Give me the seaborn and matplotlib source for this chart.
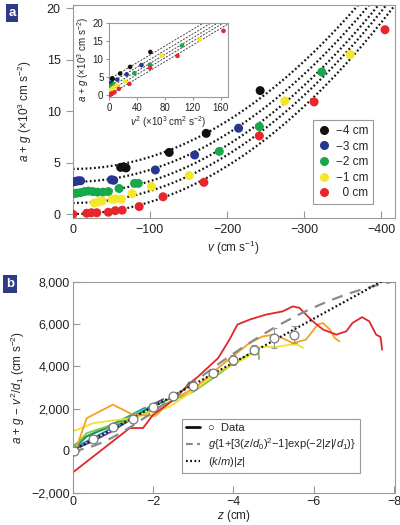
import numpy as np
import pandas as pd
import seaborn as sns
import matplotlib
matplotlib.use('Agg')
import matplotlib.pyplot as plt
from matplotlib import font_manager
from matplotlib.lines import Line2D
from matplotlib.ticker import FuncFormatter

# ---- panel a data: v (cm/s) and a+g (x10^3 cm/s^2) for each depth
depths = ['\u22124 cm', '\u22123 cm', '\u22122 cm', '\u22121 cm', '\u20070 cm']
colors_a = ['#111111', '#27368f', '#17a84b', '#f6e62b', '#e6262b']

v_m4 = [-62, -66, -69, -125, -173, -243]
ag_m4 = [4.55, 4.6, 4.5, 6.0, 7.85, 12.0]
v_m3 = [-1, -4, -7, -10, -50, -53, -107, -158, -215]
ag_m3 = [3.15, 3.2, 3.25, 3.25, 3.35, 3.3, 4.3, 5.75, 8.35]
v_m2 = [-1, -5, -10, -15, -20, -26, -32, -39, -46, -60, -80, -85, -190, -242, -323]
ag_m2 = [2.0, 2.05, 2.1, 2.2, 2.25, 2.2, 2.15, 2.15, 2.2, 2.5, 3.0, 3.0, 6.1, 8.5, 13.8]
v_m1 = [-28, -33, -38, -51, -55, -63, -77, -102, -151, -275, -360]
ag_m1 = [1.1, 1.2, 1.3, 1.45, 1.5, 1.45, 2.0, 2.7, 3.75, 11.0, 15.5]
v_0 = [0, -18, -24, -31, -46, -55, -64, -86, -117, -170, -242, -313, -405]
ag_0 = [0.0, 0.1, 0.15, 0.15, 0.2, 0.35, 0.4, 0.75, 1.7, 3.1, 7.6, 10.9, 17.9]

# fitted parabolas a+g = c + s v^2
fit_c = [4.4, 3.15, 2.05, 1.1, 0.03]
fit_s = 0.116  # x10^3 per 10^3 cm^2/s^2

# ---- panel b data: z (cm) and a+g-v^2/d1 (cm/s^2)
runs = {
    'purple': ([0, -0.5, -1.0, -1.5, -2.0, -2.25], [50, 450, 950, 1550, 2200, 2450]),
    'blue': ([0, -0.4, -0.9, -1.4, -1.9], [100, 500, 1000, 1500, 2050]),
    'teal': ([0, -0.3, -0.8, -1.3, -1.8], [200, 650, 1100, 1550, 2050]),
    'dgreen': ([0, -0.35, -0.85, -1.5, -2.0, -2.5, -2.8, -2.9, -2.95],
               [50, 680, 1080, 1630, 2100, 2550, 2950, 3250, 2950]),
    'lime': ([0, -0.35, -0.85, -1.5, -2.0, -2.5, -3.0, -3.5, -4.0, -4.4, -4.62, -4.64],
             [120, 840, 1150, 1500, 1950, 2400, 2800, 3450, 4150, 4600, 4750, 4350]),
    'yellow': ([0, -0.51, -1.0, -1.5, -2.0, -2.42, -3.04, -3.57, -3.9, -4.31, -4.65, -5.05, -5.4, -5.6, -5.73],
               [920, 1310, 1440, 1550, 1850, 2100, 2900, 3690, 4010, 4400, 4930, 4930, 5030, 5030, 4880]),
    'orange': ([0, -0.35, -1.0, -1.5, -2.06, -2.5, -3.04, -3.57, -4.03, -4.4, -4.73, -5.03, -5.48, -5.8, -6.1, -6.23, -6.4, -6.52, -6.64],
               [-350, 1550, 2190, 1710, 1660, 2450, 2980, 3850, 4560, 5110, 5430, 5510, 5110, 5270, 5990, 6060, 5750, 5350, 5190]),
    'red': ([0, -1.42, -1.75, -2.0, -2.5, -2.91, -3.12, -3.62, -3.9, -4.1, -4.4, -4.81, -5.22, -5.48, -5.64, -5.97, -6.23, -6.56, -6.81, -6.96, -7.2, -7.38, -7.55, -7.66, -7.7],
            [-1030, 1080, 1080, 1710, 2400, 3200, 3520, 4400, 5270, 5990, 6220, 6460, 6610, 6850, 6780, 6150, 5750, 5510, 5670, 6060, 6340, 6140, 5510, 5400, 4800]),
}
run_colors = {'purple': '#6a3d9a', 'blue': '#2b7bba', 'teal': '#22a7a0', 'dgreen': '#1e9a4a',
              'lime': '#86c440', 'yellow': '#f2e033', 'orange': '#f4a21f', 'red': '#e0262b'}

data_z = [-0.02, -0.5, -1.0, -1.5, -2.0, -2.5, -3.0, -3.5, -4.0, -4.5, -5.0, -5.5]
data_y = [0, 570, 1120, 1520, 2075, 2610, 3090, 3690, 4320, 4800, 5340, 5510]
data_err = [50, 60, 80, 80, 100, 120, 130, 150, 240, 230, 470, 400]

g_acc, d0, d1 = 980.0, 2.27, 9.9
k_m = 1045.0

# ---- style
sns.set_style('ticks')
names = {f.name for f in font_manager.fontManager.ttflist}
base = 'Liberation Sans Narrow' if 'Liberation Sans Narrow' in names else 'Liberation Sans'
plt.rcParams['font.family'] = [base, 'DejaVu Sans']
plt.rcParams['mathtext.fontset'] = 'custom'
plt.rcParams['mathtext.rm'] = base
plt.rcParams['mathtext.it'] = base + ':italic'
plt.rcParams['axes.edgecolor'] = '#999999'
plt.rcParams['xtick.color'] = '#999999'
plt.rcParams['ytick.color'] = '#999999'
plt.rcParams['xtick.labelcolor'] = '#222222'
plt.rcParams['ytick.labelcolor'] = '#222222'

FS = 8.5
fig = plt.figure(figsize=(4, 5.25), dpi=100)
W, H = 400, 525
ax = fig.add_axes([72.5 / W, 1 - 218 / H, 322.5 / W, 213 / H])
axb = fig.add_axes([72.7 / W, 1 - 493 / H, 322.3 / W, 211.5 / H])
axi = fig.add_axes([109 / W, 1 - 97 / H, 119 / W, 74 / H])

frames = []
for lab, vv, yy in zip(depths, [v_m4, v_m3, v_m2, v_m1, v_0], [ag_m4, ag_m3, ag_m2, ag_m1, ag_0]):
    frames.append(pd.DataFrame({'v': vv, 'ag': yy, 'depth': lab}))
dfa = pd.concat(frames, ignore_index=True)
dfa['v2'] = dfa['v'] ** 2 / 1000.0
pal = dict(zip(depths, colors_a))

# panel a main
vline = np.linspace(0, -425, 300)
for c in fit_c:
    ax.plot(vline, c + fit_s * vline ** 2 / 1000.0, color='#111111', lw=1.6,
            ls=(0, (0.8, 1.1)), zorder=2)
sns.scatterplot(data=dfa, x='v', y='ag', hue='depth', hue_order=depths, palette=pal,
                s=42, edgecolor='none', linewidth=0, ax=ax, legend=False, zorder=3)
ax.set_xlim(0.5, -418)
ax.set_ylim(-0.36, 20.3)
ax.set_xticks([0, -100, -200, -300, -400])
ax.set_yticks([0, 5, 10, 15, 20])
ax.tick_params(axis='x', direction='in', length=5, labelsize=FS + 0.5, pad=4)
ax.tick_params(axis='y', direction='out', length=5, labelsize=FS + 0.5)
ax.set_xlabel(r'$v$ (cm s$^{-1}$)', fontsize=FS, labelpad=2)
ax.set_ylabel(r'$a$ + $g$ ($\times$10$^3$ cm s$^{-2}$)', fontsize=FS, labelpad=9)
for s in ax.spines.values():
    s.set_visible(True)
handles = [Line2D([], [], marker='o', ls='none', color=c, markersize=6.5, markeredgewidth=0)
           for c in colors_a]
leg = ax.legend(handles, depths, loc='lower right', bbox_to_anchor=(0.932, 0.066),
                borderaxespad=0, fontsize=FS, frameon=True, fancybox=False,
                edgecolor='#999999', framealpha=1, handletextpad=0.5,
                labelspacing=0.3, borderpad=0.4, handlelength=1.0)
leg.get_frame().set_linewidth(0.8)

# inset
xl = np.linspace(0, 172, 50)
for c in fit_c:
    axi.plot(xl, c + fit_s * xl, color='#444444', lw=0.7, ls=(0, (2, 1.4)), zorder=2)
sns.scatterplot(data=dfa, x='v2', y='ag', hue='depth', hue_order=depths, palette=pal,
                s=11, edgecolor='none', linewidth=0, ax=axi, legend=False, zorder=3)
axi.set_xlim(-0.4, 170.5)
axi.set_ylim(-0.56, 20.1)
axi.set_xticks([0, 40, 80, 120, 160])
axi.set_yticks([0, 5, 10, 15, 20])
axi.tick_params(direction='out', length=2.5, labelsize=7, pad=1.5)
axi.set_xlabel(r'$v^2$ ($\times$10$^3$ cm$^2$ s$^{-2}$)', fontsize=7, labelpad=1)
axi.set_ylabel(r'$a$ + $g$ ($\times$10$^3$ cm s$^{-2}$)', fontsize=7, labelpad=1)
for s in axi.spines.values():
    s.set_visible(True)

# panel b
rows = []
for name, (zz, yy) in runs.items():
    rows.append(pd.DataFrame({'z': zz, 'val': yy, 'run': name}))
dfb = pd.concat(rows, ignore_index=True)
sns.lineplot(data=dfb, x='z', y='val', hue='run', hue_order=list(runs.keys()),
             palette=run_colors, units='run', estimator=None, sort=False,
             lw=1.3, ax=axb, legend=False, zorder=2)
zl = np.linspace(0, -8.05, 300)
model = g_acc * (1 + (3 * (zl / d0) ** 2 - 1) * np.exp(-2 * np.abs(zl) / d1))
axb.plot(zl, model, color='#8a8a8a', lw=1.6, ls=(0, (5, 3.5)), zorder=3)
axb.plot(zl, k_m * np.abs(zl), color='#111111', lw=1.6, ls=(0, (0.8, 1.1)), zorder=4)
axb.errorbar(data_z, data_y, yerr=data_err, fmt='none', ecolor='#999999',
             elinewidth=0.8, capsize=2, capthick=0.8, zorder=5)
sns.scatterplot(x=data_z, y=data_y, ax=axb, s=40, color='white', edgecolor='#777777',
                linewidth=0.9, zorder=6, legend=False)
axb.set_xlim(0, -8.02)
axb.set_ylim(-2000, 8030)
axb.set_xticks([0, -2, -4, -6, -8])
axb.set_yticks([-2000, 0, 2000, 4000, 6000, 8000])
axb.yaxis.set_major_formatter(FuncFormatter(lambda x, p: f'{x:,.0f}'.replace('-', '\u2212')))
axb.xaxis.set_major_formatter(FuncFormatter(lambda x, p: f'{x:.0f}'.replace('-', '\u2212')))
axb.tick_params(direction='in', length=5, labelsize=FS + 0.5, pad=2)
axb.set_xlabel(r'$z$ (cm)', fontsize=FS, labelpad=0)
axb.set_ylabel(r'$a$ + $g$ $-$ $v^2$/$d_1$ (cm s$^{-2}$)', fontsize=FS, labelpad=3)
for s in axb.spines.values():
    s.set_visible(True)
hb = [Line2D([], [], color='#111111', lw=2.0),
      Line2D([], [], color='#8a8a8a', lw=1.6, ls=(0, (3, 2))),
      Line2D([], [], color='#111111', lw=1.6, ls=(0, (0.8, 1.1)))]
lb = ['\u25cb  Data',
      r'$g${1+[3($z$/$d_0$)$^2$$-$1]exp($-$2|$z$|/$d_1$)}',
      r'($k$/$m$)|$z$|']
legb = axb.legend(hb, lb, loc='lower left', bbox_to_anchor=(0.339, 0.095), borderaxespad=0,
                  fontsize=8, frameon=True, fancybox=False, edgecolor='#999999',
                  framealpha=1, handlelength=1.3, handletextpad=0.7, labelspacing=0.3,
                  borderpad=0.35)
legb.get_frame().set_linewidth(0.8)

# panel tags
box = dict(facecolor='#2e3a87', edgecolor='none', boxstyle='square,pad=0.2')
fig.text(12 / W, 1 - 13 / H, 'a', color='white', fontweight='bold', fontsize=9.5,
         ha='center', va='center', bbox=box)
fig.text(10 / W, 1 - 284 / H, 'b', color='white', fontweight='bold', fontsize=9.5,
         ha='center', va='center', bbox=box)

fig.savefig('out.png', dpi=100)
